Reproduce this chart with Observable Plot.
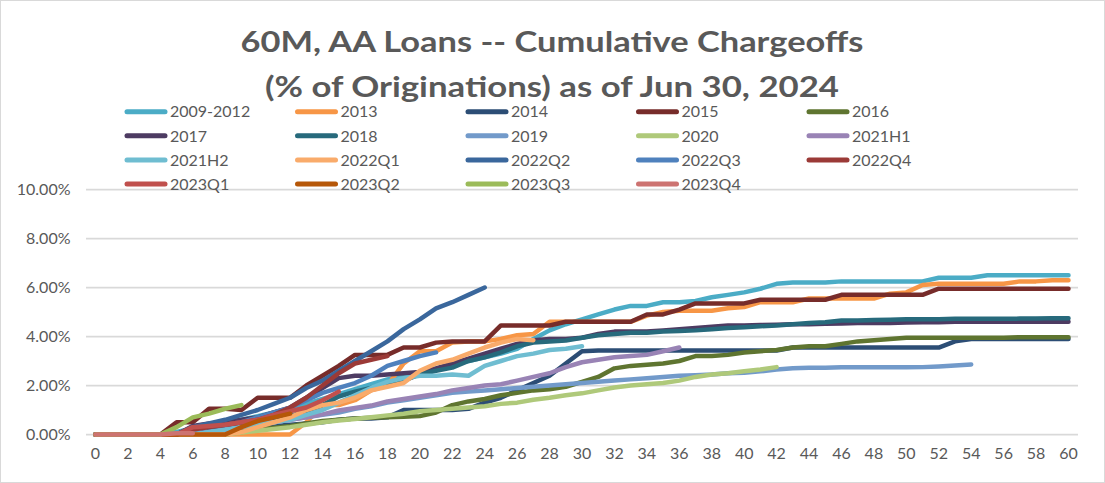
<!DOCTYPE html>
<html><head><meta charset="utf-8">
<script src="https://cdn.jsdelivr.net/npm/d3@7"></script>
<script src="https://cdn.jsdelivr.net/npm/@observablehq/plot@0.6"></script>
<style>
html,body{margin:0;padding:0;background:#fff;}
#wrap{position:relative;width:1105px;height:483px;overflow:hidden;font-family:Lato,"Open Sans",sans-serif;background:#fff;}
#wrap svg{position:absolute;left:0;top:0;}
#frame{position:absolute;left:0;top:0;width:1105px;height:483px;box-sizing:border-box;border:1px solid #d9d9d9;pointer-events:none;}
</style>
</head><body>
<div id="wrap"><div id="frame"></div></div>
<script>
const titleLines = ["60M, AA Loans -- Cumulative Chargeoffs", "(% of Originations) as of Jun 30, 2024"];
const seriesNames = ["2009-2012","2013","2014","2015","2016","2017","2018","2019","2020","2021H1","2021H2","2022Q1","2022Q2","2022Q3","2022Q4","2023Q1","2023Q2","2023Q3","2023Q4"];
const seriesColors = ["#4BACC6","#F79646","#2C4D75","#772C2A","#5F7530","#4D3B62","#276A7C","#729ACA","#AFC97A","#9983B5","#6FBDD1","#F9AB6B","#3A679C","#4F81BD","#9B3A37","#C0504D","#B65708","#9BBB59","#CD7371"];
const xTicks = [0,2,4,6,8,10,12,14,16,18,20,22,24,26,28,30,32,34,36,38,40,42,44,46,48,50,52,54,56,58,60];
const yTicks = [0,2,4,6,8,10];

// cumulative chargeoffs (%) by month on book, index = month 0..n
const s2009_2012 = [0,0,0,0,0,0.1,0.25,0.4,0.5,0.6,0.75,0.9,1.05,1.25,1.45,1.65,1.85,2.05,2.25,2.4,2.55,2.7,2.85,3.0,3.15,3.3,3.5,3.9,4.25,4.5,4.7,4.9,5.1,5.25,5.25,5.4,5.4,5.45,5.6,5.7,5.8,5.95,6.15,6.2,6.2,6.2,6.25,6.25,6.25,6.25,6.25,6.25,6.4,6.4,6.4,6.5,6.5,6.5,6.5,6.5,6.5];
const s2013 = [0,0,0,0,0,0,0,0,0,0,0,0,0,0.5,1.2,1.2,1.4,1.8,2.0,2.9,3.4,3.4,3.75,3.8,3.8,3.9,4.05,4.1,4.6,4.6,4.6,4.6,4.6,4.6,4.85,5.0,5.05,5.05,5.05,5.15,5.2,5.4,5.4,5.4,5.55,5.55,5.55,5.55,5.55,5.75,5.8,6.1,6.15,6.15,6.15,6.15,6.15,6.25,6.25,6.3,6.3];
const s2014 = [0,0,0,0,0,0,0,0,0.1,0.2,0.3,0.35,0.4,0.45,0.5,0.6,0.65,0.65,0.7,1.0,1.0,1.0,1.0,1.05,1.3,1.5,1.8,2.1,2.4,2.9,3.4,3.43,3.43,3.43,3.43,3.43,3.43,3.43,3.43,3.43,3.43,3.43,3.43,3.55,3.55,3.55,3.55,3.55,3.55,3.55,3.55,3.55,3.55,3.8,3.9,3.9,3.9,3.9,3.9,3.9,3.9];
const s2015 = [0,0,0,0,0,0.5,0.5,1.05,1.05,1.0,1.5,1.5,1.5,2.0,2.4,2.8,3.25,3.25,3.25,3.55,3.55,3.75,3.8,3.8,3.8,4.45,4.45,4.45,4.45,4.6,4.6,4.6,4.6,4.6,4.9,4.9,5.1,5.35,5.35,5.35,5.35,5.5,5.5,5.5,5.5,5.5,5.7,5.7,5.7,5.7,5.7,5.7,5.95,5.95,5.95,5.95,5.95,5.95,5.95,5.95,5.95];
const s2016 = [0,0,0,0,0,0,0,0,0,0.1,0.2,0.28,0.35,0.45,0.55,0.6,0.65,0.68,0.7,0.72,0.75,0.9,1.2,1.35,1.45,1.6,1.7,1.8,1.85,1.95,2.15,2.35,2.7,2.8,2.85,2.9,3.0,3.2,3.2,3.25,3.35,3.4,3.45,3.55,3.6,3.6,3.7,3.8,3.85,3.9,3.95,3.95,3.95,3.95,3.95,3.95,3.95,3.97,3.97,3.97,3.97];
const s2017 = [0,0,0,0,0,0,0.35,0.45,0.5,0.6,0.7,0.9,1.1,1.5,1.9,2.3,2.4,2.4,2.45,2.5,2.55,2.7,2.9,3.1,3.3,3.5,3.7,3.85,3.9,3.9,3.95,4.1,4.2,4.2,4.2,4.25,4.3,4.35,4.4,4.45,4.45,4.47,4.48,4.5,4.5,4.52,4.53,4.55,4.55,4.55,4.57,4.58,4.58,4.6,4.6,4.6,4.6,4.6,4.6,4.6,4.6];
const s2018 = [0,0,0,0,0,0,0,0.15,0.25,0.35,0.45,0.6,0.75,0.95,1.2,1.55,1.75,1.9,2.05,2.2,2.45,2.6,2.73,3.0,3.15,3.35,3.6,3.75,3.8,3.84,3.95,4.05,4.1,4.15,4.15,4.2,4.22,4.25,4.3,4.35,4.38,4.42,4.45,4.5,4.55,4.58,4.65,4.65,4.67,4.68,4.7,4.7,4.7,4.72,4.72,4.72,4.72,4.73,4.73,4.75,4.75];
const s2019 = [0,0,0,0,0,0,0,0.1,0.2,0.3,0.4,0.5,0.6,0.7,0.8,0.9,1.05,1.15,1.3,1.4,1.5,1.6,1.7,1.75,1.8,1.85,1.9,1.95,2.0,2.05,2.1,2.15,2.2,2.25,2.3,2.35,2.4,2.42,2.45,2.5,2.52,2.58,2.65,2.7,2.72,2.72,2.74,2.74,2.74,2.74,2.74,2.75,2.78,2.82,2.86];
const s2020 = [0,0,0,0,0,0,0,0,0,0.08,0.15,0.22,0.3,0.4,0.5,0.57,0.63,0.7,0.78,0.85,0.95,1.0,1.05,1.1,1.15,1.25,1.3,1.42,1.5,1.6,1.68,1.8,1.92,2.0,2.05,2.1,2.2,2.35,2.45,2.5,2.58,2.65,2.75];
const s2021H1 = [0,0,0,0,0,0,0,0.1,0.2,0.3,0.4,0.5,0.6,0.7,0.82,0.98,1.08,1.18,1.35,1.45,1.55,1.65,1.8,1.9,2.0,2.05,2.2,2.35,2.5,2.75,2.95,3.05,3.15,3.2,3.25,3.4,3.55];
const s2021H2 = [0,0,0,0,0,0,0,0.1,0.2,0.3,0.4,0.5,0.6,0.8,1.0,1.3,1.6,1.9,2.15,2.3,2.4,2.4,2.45,2.4,2.8,3.0,3.2,3.3,3.45,3.5,3.6];
const s2022Q1 = [0,0,0,0,0,0,0,0,0,0.1,0.3,0.5,0.7,1.0,1.2,1.3,1.5,1.8,1.95,2.1,2.6,2.9,3.05,3.3,3.55,3.75,3.9,3.85];
const s2022Q2 = [0,0,0,0,0,0,0.3,0.45,0.6,0.8,1.0,1.25,1.5,1.9,2.2,2.6,3.0,3.4,3.8,4.3,4.7,5.15,5.4,5.7,6.0];
const s2022Q3 = [0,0,0,0,0,0,0.2,0.3,0.4,0.5,0.7,0.9,1.1,1.4,1.7,1.9,2.1,2.4,2.8,3.0,3.2,3.35];
const s2022Q4 = [0,0,0,0,0,0,0.2,0.3,0.4,0.5,0.6,0.8,1.1,1.5,2.0,2.5,2.9,3.05,3.2];
const s2023Q1 = [0,0,0,0,0,0,0.3,0.35,0.4,0.5,0.6,0.8,0.95,1.1,1.4,1.75];
const s2023Q2 = [0,0,0,0,0,0,0,0,0,0.3,0.55,0.7,0.85];
const s2023Q3 = [0,0,0,0,0,0.3,0.7,0.85,1.05,1.2];
const s2023Q4 = [0,0,0,0,0,0.05,0.05];

const seriesValues = [s2009_2012,s2013,s2014,s2015,s2016,s2017,s2018,s2019,s2020,s2021H1,s2021H2,s2022Q1,s2022Q2,s2022Q3,s2022Q4,s2023Q1,s2023Q2,s2023Q3,s2023Q4];

const rows = [];
seriesNames.forEach((name, i) => seriesValues[i].forEach((v, m) => rows.push({series: name, m, v})));

const W = 1105, H = 483;
const chart = Plot.plot({
  width: W, height: H,
  marginTop: 189, marginBottom: 49, marginLeft: 86, marginRight: 27,
  x: {domain: [0, 60], range: [95, 1068], ticks: xTicks, tickSize: 0, tickPadding: 13, label: null, tickFormat: d => String(d)},
  y: {domain: [0, 10], ticks: yTicks, tickSize: 0, tickPadding: 16, label: null, tickFormat: d => d.toFixed(2) + "%"},
  color: {domain: seriesNames, range: seriesColors},
  style: {fontFamily: "Lato, 'Open Sans', sans-serif", fontSize: "16px", color: "#595959", background: "transparent", overflow: "visible"},
  marks: [
    Plot.ruleY(yTicks, {stroke: "#d9d9d9", strokeWidth: 1.75}),
    Plot.line(rows, {x: "m", y: "v", z: "series", stroke: "series", strokeWidth: 4.5, strokeLinejoin: "round", strokeLinecap: "round"})
  ]
});
document.getElementById("wrap").appendChild(chart);

// Title and legend
const svg = d3.select("#wrap").append("svg").attr("width", W).attr("height", 200);
const tl = [{t: titleLines[0], y: 52, len: 623}, {t: titleLines[1], y: 97, len: 574}];
svg.selectAll("text.title").data(tl).join("text")
  .attr("class", "title")
  .attr("x", 552).attr("y", d => d.y)
  .attr("text-anchor", "middle")
  .attr("textLength", d => d.len).attr("lengthAdjust", "spacingAndGlyphs")
  .attr("font-family", "Lato, 'Open Sans', sans-serif").attr("font-weight", 700).attr("font-size", 29)
  .attr("fill", "#595959")
  .text(d => d.t);

const leg = svg.append("g");
seriesNames.forEach((name, i) => {
  const col = i % 5, row = Math.floor(i / 5);
  const x0 = 125 + col * 170.5, y0 = 111.7 + row * 24.1;
  leg.append("line").attr("x1", x0 + 2).attr("x2", x0 + 40).attr("y1", y0).attr("y2", y0)
    .attr("stroke", seriesColors[i]).attr("stroke-width", 5).attr("stroke-linecap", "round");
  leg.append("text").attr("x", x0 + 45).attr("y", y0).attr("dy", "0.36em")
    .attr("font-family", "Lato, 'Open Sans', sans-serif").attr("font-size", 16).attr("fill", "#595959")
    .text(name);
});
</script>
</body></html>
